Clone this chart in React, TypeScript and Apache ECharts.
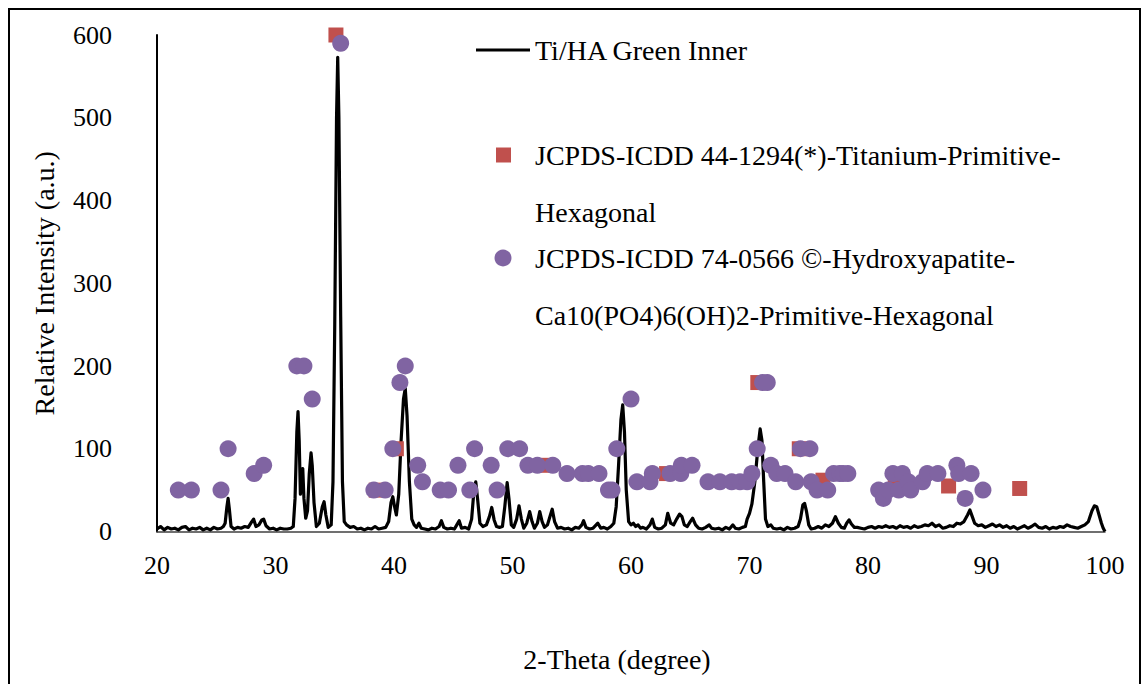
import React, { useEffect, useRef } from "react";
import * as echarts from "echarts";

const FONT = '"Liberation Serif", "Times New Roman", serif';

const lineName = "Ti/HA Green Inner";
const tiName = "JCPDS-ICDD 44-1294(*)-Titanium-Primitive-Hexagonal";
const haName = "JCPDS-ICDD 74-0566 ©-Hydroxyapatite-Ca10(PO4)6(OH)2-Primitive-Hexagonal";

// [2-theta, intensity]
const xrdScan: [number, number][] = [
  [20.0, 3], [20.3, 6], [20.6, 2], [20.9, 5], [21.2, 3], [21.5, 4], [21.8, 2], [22.1, 5], [22.4, 6], [22.7, 2],
  [23.0, 4], [23.3, 3], [23.6, 5], [23.9, 2], [24.2, 4], [24.5, 2], [24.8, 5], [25.1, 3], [25.4, 4], [25.6, 6],
  [25.75, 10], [25.9, 30], [26.0, 40], [26.1, 28], [26.25, 6], [26.5, 3], [26.8, 5], [27.1, 4], [27.4, 6], [27.7, 5],
  [28.0, 12], [28.15, 15], [28.35, 6], [28.6, 8], [28.85, 14], [29.0, 15], [29.2, 7], [29.5, 3], [29.8, 4], [30.1, 2],
  [30.4, 4], [30.7, 3], [31.0, 3], [31.3, 4], [31.5, 6],
  [31.65, 40], [31.8, 120], [31.9, 145], [32.0, 110], [32.1, 45], [32.2, 60], [32.3, 76], [32.4, 40], [32.55, 16],
  [32.7, 25], [32.85, 70], [33.0, 95], [33.1, 80], [33.25, 35], [33.45, 6], [33.7, 10], [33.95, 30], [34.1, 36],
  [34.25, 20], [34.45, 5], [34.7, 8], [34.85, 60], [35.0, 250], [35.15, 500], [35.25, 573], [35.35, 500], [35.5, 260],
  [35.65, 60], [35.8, 12], [36.0, 8], [36.3, 5], [36.6, 6], [36.9, 3], [37.2, 4], [37.5, 2], [37.8, 4], [38.1, 3],
  [38.4, 6], [38.7, 3], [39.0, 4], [39.3, 5], [39.55, 12], [39.75, 35], [39.9, 42], [40.05, 30], [40.2, 20],
  [40.4, 45], [40.6, 110], [40.8, 160], [40.95, 173], [41.1, 140], [41.3, 60], [41.5, 15], [41.7, 8], [41.9, 5],
  [42.1, 10], [42.3, 4], [42.6, 3], [42.9, 2], [43.2, 4], [43.5, 3], [43.8, 6], [44.0, 13], [44.2, 5], [44.5, 3],
  [44.8, 4], [45.1, 3], [45.3, 8], [45.5, 13], [45.7, 4], [46.0, 5], [46.3, 3], [46.55, 15], [46.75, 50], [46.9, 60],
  [47.05, 40], [47.25, 10], [47.5, 6], [47.8, 8], [48.05, 18], [48.25, 29], [48.45, 14], [48.65, 6], [48.9, 5],
  [49.15, 6], [49.35, 30], [49.55, 59], [49.7, 40], [49.9, 8], [50.1, 5], [50.35, 15], [50.55, 31], [50.75, 15],
  [50.95, 4], [51.2, 10], [51.45, 24], [51.65, 12], [51.85, 4], [52.1, 10], [52.3, 24], [52.5, 12], [52.7, 5],
  [52.95, 8], [53.2, 20], [53.35, 27], [53.55, 12], [53.8, 4], [54.1, 5], [54.4, 3], [54.7, 4], [55.0, 2], [55.3, 5],
  [55.6, 4], [55.85, 8], [56.0, 13], [56.2, 5], [56.5, 3], [56.8, 4], [57.0, 7], [57.2, 10], [57.45, 4], [57.7, 5],
  [58.0, 3], [58.3, 6], [58.55, 10], [58.75, 30], [58.95, 80], [59.15, 135], [59.3, 153], [59.45, 120], [59.6, 50],
  [59.8, 12], [60.0, 8], [60.2, 10], [60.4, 6], [60.6, 8], [60.8, 4], [61.0, 5], [61.3, 3], [61.6, 8], [61.8, 15],
  [62.0, 5], [62.3, 3], [62.6, 4], [62.9, 8], [63.1, 22], [63.35, 10], [63.6, 8], [63.85, 15], [64.1, 21], [64.3, 18],
  [64.5, 8], [64.75, 6], [65.0, 12], [65.2, 16], [65.45, 8], [65.7, 4], [66.0, 3], [66.3, 5], [66.6, 8], [66.8, 4],
  [67.1, 3], [67.4, 4], [67.7, 2], [68.0, 5], [68.3, 3], [68.6, 8], [68.8, 4], [69.1, 3], [69.4, 5], [69.65, 6],
  [69.8, 15], [70.0, 22], [70.2, 33], [70.45, 60], [70.7, 100], [70.9, 124], [71.05, 110], [71.2, 60], [71.35, 15],
  [71.55, 6], [71.8, 8], [72.0, 4], [72.3, 3], [72.6, 4], [72.9, 2], [73.2, 5], [73.5, 3], [73.8, 4], [74.1, 6],
  [74.3, 15], [74.5, 32], [74.65, 34], [74.8, 25], [75.0, 8], [75.2, 3], [75.5, 4], [75.8, 6], [76.1, 4], [76.4, 8],
  [76.7, 6], [77.0, 10], [77.25, 18], [77.5, 10], [77.75, 5], [78.0, 4], [78.2, 10], [78.4, 14], [78.6, 9], [78.85, 5],
  [79.1, 5], [79.4, 4], [79.7, 3], [80.0, 5], [80.3, 6], [80.6, 4], [80.9, 6], [81.2, 5], [81.5, 7], [81.8, 5],
  [82.1, 6], [82.4, 4], [82.7, 7], [83.0, 5], [83.3, 6], [83.6, 4], [83.9, 7], [84.2, 5], [84.5, 6], [84.8, 8],
  [85.1, 7], [85.4, 10], [85.7, 6], [86.0, 8], [86.3, 4], [86.6, 5], [86.9, 7], [87.2, 6], [87.5, 10], [87.8, 9],
  [88.1, 12], [88.4, 20], [88.6, 26], [88.8, 18], [89.0, 10], [89.3, 7], [89.6, 8], [89.9, 5], [90.2, 7], [90.5, 9],
  [90.8, 6], [91.1, 8], [91.4, 5], [91.7, 7], [92.0, 4], [92.3, 6], [92.6, 3], [92.9, 5], [93.2, 7], [93.5, 4],
  [93.8, 6], [94.1, 9], [94.4, 5], [94.7, 4], [95.0, 6], [95.3, 3], [95.6, 5], [95.9, 4], [96.2, 6], [96.5, 5],
  [96.8, 8], [97.1, 6], [97.4, 5], [97.7, 4], [98.0, 6], [98.3, 8], [98.6, 12], [98.9, 25], [99.1, 31], [99.3, 30],
  [99.5, 20], [99.7, 10], [99.85, 4], [100.0, 0],
];

// JCPDS-ICDD 44-1294 Titanium reference peaks [2-theta, marker height]
const tiPeaks: [number, number][] = [
  [35.1, 600], [38.5, 50], [40.2, 100], [53.0, 80], [63.0, 70], [70.7, 180], [74.2, 100], [76.2, 62],
  [82.3, 55], [86.8, 55], [92.8, 52],
];

// JCPDS-ICDD 74-0566 Hydroxyapatite reference peaks [2-theta, marker height]
const haPeaks: [number, number][] = [
  [21.8, 50], [22.9, 50], [25.4, 50], [26.0, 100], [28.2, 70], [29.0, 80], [31.8, 200], [32.4, 200], [33.1, 160],
  [35.5, 590], [38.3, 50], [39.25, 50], [39.9, 100], [40.5, 180], [40.95, 200], [42.0, 80], [42.4, 60], [43.9, 50],
  [44.6, 50], [45.4, 80], [46.4, 50], [46.8, 100], [48.2, 80], [48.7, 50], [49.6, 100], [50.6, 100], [51.3, 80],
  [52.1, 80], [53.4, 80], [54.6, 70], [55.9, 70], [56.4, 70], [57.3, 70], [58.1, 50], [58.4, 50], [58.8, 100],
  [60.0, 160], [60.5, 60], [61.6, 60], [61.8, 70], [63.3, 70], [64.2, 70], [64.25, 80], [65.15, 80], [66.5, 60],
  [67.5, 60], [68.5, 60], [69.2, 60], [69.8, 60], [70.2, 70], [70.65, 100], [71.1, 180], [71.5, 180], [71.8, 80],
  [72.3, 70], [73.0, 70], [73.9, 60], [74.3, 100], [75.1, 100], [75.2, 60], [75.7, 50], [76.6, 50], [77.1, 70],
  [77.6, 70], [77.9, 70], [78.3, 70], [80.9, 50], [81.3, 40], [81.7, 50], [82.1, 70], [82.6, 50], [82.9, 70],
  [83.4, 60], [83.6, 50], [84.6, 60], [85.0, 70], [85.9, 70], [87.5, 80], [87.65, 70], [88.2, 40], [88.7, 70],
  [89.7, 50],
];

// legend text split into lines; a leading blank line keeps the marker level with the first line
const legendLines: Record<string, string> = {
  [lineName]: lineName,
  [tiName]: " \nJCPDS-ICDD 44-1294(*)-Titanium-Primitive-\nHexagonal",
  [haName]: " \nJCPDS-ICDD 74-0566 ©-Hydroxyapatite-\nCa10(PO4)6(OH)2-Primitive-Hexagonal",
};

export default function App() {
  const ref = useRef<HTMLDivElement>(null);

  useEffect(() => {
    if (!ref.current) return;
    const chart = echarts.init(ref.current, undefined, { renderer: "svg" });
    const legendText = { fontFamily: FONT, fontSize: 28, color: "#000" };
    chart.setOption({
      animation: false,
      backgroundColor: "#fff",
      textStyle: { fontFamily: FONT },
      grid: { left: 157, right: 39, top: 35, bottom: 152.5, containLabel: false },
      xAxis: {
        type: "value",
        min: 20,
        max: 100,
        interval: 10,
        name: "2-Theta (degree)",
        nameLocation: "middle",
        nameGap: 114,
        nameTextStyle: { fontFamily: FONT, fontSize: 28, color: "#000", padding: [0, 28, 0, 0] },
        axisLine: { show: true, lineStyle: { color: "#404040", width: 1.5 } },
        axisTick: { show: false },
        splitLine: { show: false },
        axisLabel: { fontFamily: FONT, fontSize: 26, color: "#000", margin: 21 },
      },
      yAxis: {
        type: "value",
        min: 0,
        max: 600,
        interval: 100,
        name: "Relative Intensity (a.u.)",
        nameLocation: "middle",
        nameGap: 99,
        nameTextStyle: { fontFamily: FONT, fontSize: 28, color: "#000" },
        axisLine: { show: true, lineStyle: { color: "#000", width: 2 } },
        axisTick: { show: false },
        splitLine: { show: false },
        axisLabel: { fontFamily: FONT, fontSize: 26, color: "#000", margin: 45 },
      },
      legend: [
        {
          data: [{ name: lineName, icon: "rect" }],
          left: 476,
          top: 34,
          padding: 0,
          itemWidth: 54,
          itemHeight: 3,
          selectedMode: false,
          formatter: (n: string) => legendLines[n] ?? n,
          textStyle: { ...legendText, lineHeight: 32 },
        },
        {
          data: [{ name: tiName, icon: "rect" }],
          left: 496,
          top: 69.5,
          padding: 0,
          itemWidth: 15,
          itemHeight: 15,
          selectedMode: false,
          formatter: (n: string) => legendLines[n] ?? n,
          textStyle: { ...legendText, lineHeight: 57, padding: [0, 0, 0, 19] },
        },
        {
          data: [{ name: haName, icon: "circle" }],
          left: 494.5,
          top: 172.5,
          padding: 0,
          itemWidth: 17,
          itemHeight: 17,
          selectedMode: false,
          formatter: (n: string) => legendLines[n] ?? n,
          textStyle: { ...legendText, lineHeight: 57, padding: [0, 0, 0, 18.5] },
        },
      ],
      graphic: [
        {
          type: "rect",
          shape: { x: 9, y: 9, width: 1131, height: 700 },
          style: { fill: "none", stroke: "#000", lineWidth: 2 },
          silent: true,
          z: 100,
        },
      ],
      series: [
        {
          name: lineName,
          type: "line",
          data: xrdScan,
          symbol: "none",
          color: "#000",
          lineStyle: { color: "#000", width: 3.2, join: "round" },
          z: 1,
        },
        {
          name: tiName,
          type: "scatter",
          data: tiPeaks,
          symbol: "rect",
          symbolSize: 15,
          itemStyle: { color: "#C0504D", opacity: 1 },
          z: 2,
        },
        {
          name: haName,
          type: "scatter",
          data: haPeaks,
          symbol: "circle",
          symbolSize: 17,
          itemStyle: { color: "#8064A2", opacity: 1 },
          z: 3,
        },
      ],
    });
    return () => chart.dispose();
  }, []);

  return (
    <div
      ref={ref}
      style={{ position: "absolute", left: 0, top: 0, width: 1144, height: 684, background: "#fff" }}
    />
  );
}
